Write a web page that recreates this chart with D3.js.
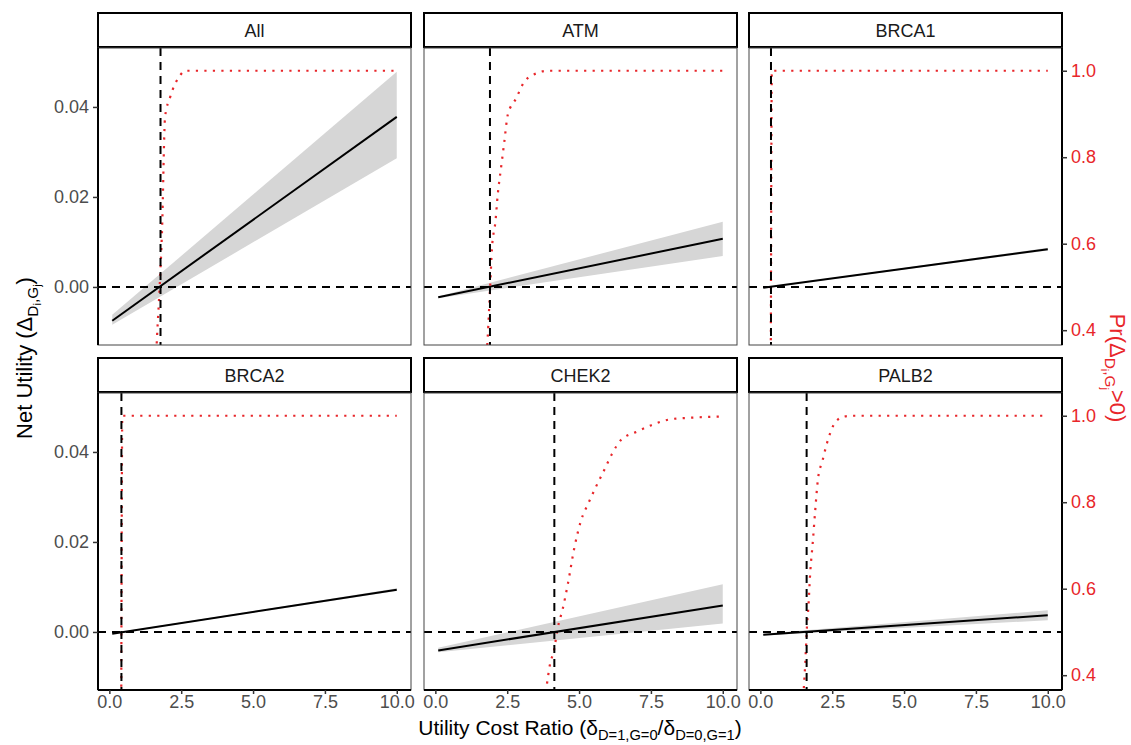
<!DOCTYPE html>
<html>
<head>
<meta charset="utf-8">
<script src="https://cdn.jsdelivr.net/npm/d3@7"></script>
<style>
  body { margin: 0; background: #fff; }
  svg text { font-family: "Liberation Sans", Arial, sans-serif; }
</style>
</head>
<body>
<svg id="chart"></svg>
<script>
// panels, in facet order
var panels = ["All", "ATM", "BRCA1", "BRCA2", "CHEK2", "PALB2"];

// net utility line + ribbon, read at x = 0.1 and x = 10
var lineX = [0.1, 10];
var netStart   = [-0.0075, -0.0023, -0.0002, -0.0004, -0.0041, -0.0006];
var netEnd     = [ 0.0378,  0.0107,  0.0084,  0.0094,  0.0059,  0.0037];
var lowerStart = [-0.0084, -0.0025, -0.0003, -0.0005, -0.0045, -0.0008];
var lowerEnd   = [ 0.0286,  0.0069,  0.0081,  0.0091,  0.0019,  0.0026];
var upperStart = [-0.0062, -0.0021, -0.0001, -0.0003, -0.0035, -0.0004];
var upperEnd   = [ 0.0478,  0.0145,  0.0087,  0.0097,  0.0106,  0.0048];

// break-even cost ratio (vertical dashed line)
var thresholds = [1.78, 1.90, 0.37, 0.42, 4.14, 1.61];

// Pr(net utility > 0) curves
var probAllX = [0.1, 1.5, 1.62, 1.66, 1.75, 1.83, 1.94, 2.12, 2.47, 2.64, 10];
var probAllP = [0, 0.2, 0.33, 0.386, 0.5, 0.625, 0.894, 0.94, 0.99, 1.0, 1.0];
var probAtmX = [0.1, 1.6, 1.82, 1.91, 1.97, 2.09, 2.17, 2.29, 2.40, 2.52, 2.81, 3.10, 3.56, 3.91, 10];
var probAtmP = [0, 0.2, 0.382, 0.505, 0.59, 0.651, 0.713, 0.778, 0.836, 0.898, 0.936, 0.975, 0.995, 1.0, 1.0];
var probBrca1X = [0.1, 0.35, 0.37, 0.40, 10];
var probBrca1P = [0, 0, 0.5, 1.0, 1.0];
var probBrca2X = [0.1, 0.40, 0.42, 0.45, 10];
var probBrca2P = [0, 0, 0.5, 1.0, 1.0];
var probChek2X = [0.1, 3.5, 3.85, 4.0, 4.12, 4.26, 4.43, 4.61, 4.84, 5.07, 5.32, 5.59, 5.88, 6.14, 6.46, 7.04, 7.62, 8.2, 8.78, 9.42, 10];
var probChek2P = [0, 0.2, 0.365, 0.429, 0.455, 0.51, 0.553, 0.611, 0.696, 0.758, 0.797, 0.836, 0.875, 0.911, 0.944, 0.964, 0.981, 0.992, 0.995, 0.997, 0.998];
var probPalb2X = [0.1, 1.3, 1.51, 1.56, 1.62, 1.67, 1.74, 1.82, 1.91, 2.0, 2.17, 2.32, 2.63, 2.92, 3.2, 10];
var probPalb2P = [0, 0.15, 0.367, 0.425, 0.51, 0.557, 0.642, 0.704, 0.782, 0.851, 0.898, 0.937, 0.987, 0.998, 1.0, 1.0];

var probX = [probAllX, probAtmX, probBrca1X, probBrca2X, probChek2X, probPalb2X];
var probP = [probAllP, probAtmP, probBrca1P, probBrca2P, probChek2P, probPalb2P];

// ticks
var xTicks = [0, 2.5, 5, 7.5, 10];
var yTicks = [0, 0.02, 0.04];
var pTicks = [0.4, 0.6, 0.8, 1.0];

function init() {
  var width = 1131, height = 745;
  var colX = [98, 424, 749];
  var rowY = [13, 358];
  var pw = 313, stripH = 34, ph = 297;

  var svg = d3.select("#chart").attr("width", width).attr("height", height);

  var xScale = d3.scaleLinear().domain([-0.395, 10.495]).range([0, pw]);
  var yDomain = [-0.0129, 0.0531];
  var yScale = d3.scaleLinear().domain(yDomain).range([ph, 0]);
  // secondary axis: p = 0.5 + y / 0.0961
  var toP = function (y) { return 0.5 + y / 0.0961; };
  var pScale = d3.scaleLinear().domain([toP(yDomain[0]), toP(yDomain[1])]).range([ph, 0]);

  var red = "#e8262a";
  var tickSize = 18;

  panels.forEach(function (name, i) {
    var col = i % 3, row = Math.floor(i / 3);
    var px = colX[col], stripTop = rowY[row], py = stripTop + stripH + 1;

    // strip
    var strip = svg.append("g").attr("transform", "translate(" + px + "," + stripTop + ")");
    strip.append("rect").attr("width", pw).attr("height", stripH)
      .attr("fill", "#fff").attr("stroke", "#000").attr("stroke-width", 2);
    strip.append("text").attr("x", pw / 2).attr("y", stripH / 2 + 6.5)
      .attr("text-anchor", "middle").attr("font-size", 18).attr("fill", "#1a1a1a").text(name);

    var g = svg.append("g").attr("transform", "translate(" + px + "," + py + ")");
    g.append("clipPath").attr("id", "clip" + i).append("rect").attr("width", pw).attr("height", ph);
    var plot = g.append("g").attr("clip-path", "url(#clip" + i + ")");

    // ribbon
    var band = lineX.map(function (x, k) {
      return { x: x, lo: k === 0 ? lowerStart[i] : lowerEnd[i], hi: k === 0 ? upperStart[i] : upperEnd[i] };
    });
    plot.append("path").datum(band)
      .attr("fill", "#d6d6d6")
      .attr("d", d3.area().x(function (d) { return xScale(d.x); })
        .y0(function (d) { return yScale(d.lo); }).y1(function (d) { return yScale(d.hi); }));

    // net utility line
    var net = lineX.map(function (x, k) { return { x: x, y: k === 0 ? netStart[i] : netEnd[i] }; });
    plot.append("path").datum(net)
      .attr("fill", "none").attr("stroke", "#000").attr("stroke-width", 2)
      .attr("d", d3.line().x(function (d) { return xScale(d.x); }).y(function (d) { return yScale(d.y); }));

    // probability curve
    var prob = probX[i].map(function (x, k) { return { x: x, p: probP[i][k] }; });
    plot.append("path").datum(prob)
      .attr("fill", "none").attr("stroke", red).attr("stroke-width", 2.2)
      .attr("stroke-dasharray", "2.2,6.3")
      .attr("d", d3.line().curve(d3.curveMonotoneX)
        .x(function (d) { return xScale(d.x); }).y(function (d) { return pScale(d.p); }));

    // reference lines
    plot.append("line").attr("x1", 0).attr("x2", pw).attr("y1", yScale(0)).attr("y2", yScale(0))
      .attr("stroke", "#000").attr("stroke-width", 2).attr("stroke-dasharray", "8,6");
    plot.append("line").attr("x1", xScale(thresholds[i])).attr("x2", xScale(thresholds[i]))
      .attr("y1", 0).attr("y2", ph)
      .attr("stroke", "#000").attr("stroke-width", 2).attr("stroke-dasharray", "8,6");

    // panel border
    g.append("rect").attr("width", pw).attr("height", ph)
      .attr("fill", "none").attr("stroke", "#444").attr("stroke-width", 1);

    // axes
    if (col === 0) {
      var yAxis = g.append("g").call(d3.axisLeft(yScale).tickValues(yTicks).tickFormat(d3.format(".2f")).tickSize(5).tickPadding(4));
      yAxis.select(".domain").attr("d", "M0,0V" + ph).attr("stroke-width", 2);
      yAxis.selectAll("text").attr("font-size", tickSize).attr("fill", "#4d4d4d");
      yAxis.selectAll(".tick line").attr("stroke-width", 1.5).attr("stroke", "#333");
    }
    if (col === 2) {
      var pAxis = g.append("g").attr("transform", "translate(" + pw + ",0)")
        .call(d3.axisRight(pScale).tickValues(pTicks).tickFormat(d3.format(".1f")).tickSize(5).tickPadding(4));
      pAxis.select(".domain").attr("d", "M0,0V" + ph).attr("stroke-width", 2);
      pAxis.selectAll("text").attr("font-size", tickSize).attr("fill", red);
      pAxis.selectAll(".tick line").attr("stroke-width", 1.5).attr("stroke", "#333");
    }
    if (row === 1) {
      var xAxis = g.append("g").attr("transform", "translate(0," + ph + ")")
        .call(d3.axisBottom(xScale).tickValues(xTicks).tickFormat(d3.format(".1f")).tickSize(4).tickPadding(1));
      xAxis.select(".domain").attr("d", "M0,0H" + pw).attr("stroke-width", 2);
      xAxis.selectAll("text").attr("font-size", tickSize).attr("fill", "#4d4d4d");
      xAxis.selectAll(".tick line").attr("stroke-width", 1.5).attr("stroke", "#333");
    }
  });

  // helper for text with sub/subsub scripts
  function rich(sel, parts, size) {
    parts.forEach(function (p) {
      var lvl = p[1];
      var fs = lvl === 0 ? size : (lvl === 1 ? size * 0.7 : size * 0.5);
      var off = lvl === 0 ? 0 : (lvl === 1 ? size * 0.25 : size * 0.42);
      sel.append("tspan").attr("font-size", fs).attr("dy", off - (sel.node().__off || 0)).text(p[0]);
      sel.node().__off = off;
    });
  }

  // x title
  var xt = svg.append("text").attr("x", 580).attr("y", 735).attr("text-anchor", "middle").attr("fill", "#000");
  rich(xt, [["Utility Cost Ratio (δ", 0], ["D=1,G=0", 1], ["/δ", 0], ["D=0,G=1", 1], [")", 0]], 21);

  // left y title
  var yt = svg.append("text").attr("transform", "translate(32,358) rotate(-90)")
    .attr("text-anchor", "middle").attr("fill", "#000");
  rich(yt, [["Net Utility (Δ", 0], ["D", 1], ["i", 2], [",G", 1], ["j", 2], [")", 0]], 22);

  // right title
  var pt = svg.append("text").attr("transform", "translate(1110,368) rotate(90)")
    .attr("text-anchor", "middle").attr("fill", red);
  rich(pt, [["Pr(Δ", 0], ["D", 1], ["i", 2], [",G", 1], ["j", 2], [">0)", 0]], 22);
}

init();
</script>
</body>
</html>
